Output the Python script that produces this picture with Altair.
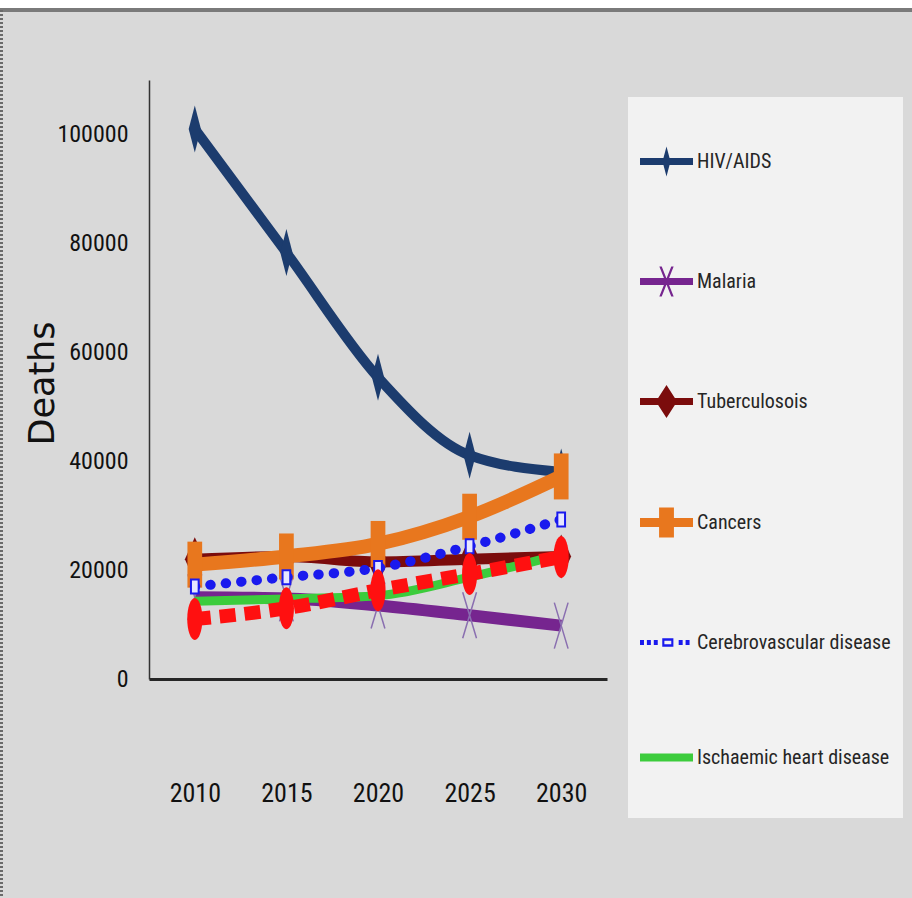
import altair as alt
import pandas as pd

# Projected deaths per year for each cause
years = [2010, 2015, 2020, 2025, 2030]

legend_series = [
    "HIV/AIDS",
    "Malaria",
    "Tuberculosois",
    "Cancers",
    "Cerebrovascular disease",
    "Ischaemic heart disease",
]
extra_series = "Series 7"

hiv = [101000, 78300, 55400, 41100, 38000]
malaria = [15000, 14800, 13500, 11700, 9800]
tuberculosis = [22000, 22500, 21500, 22000, 22500]
cancers = [21000, 22500, 24800, 29800, 37200]
cerebrovascular = [17000, 18700, 20400, 24400, 29300]
ischaemic = [14300, 14700, 15300, 18700, 22900]
series7 = [11000, 13000, 16300, 19300, 22400]

y_ticks = [0, 20000, 40000, 60000, 80000, 100000]

all_series = legend_series + [extra_series]
all_values = [hiv, malaria, tuberculosis, cancers, cerebrovascular, ischaemic, series7]

rows = []
for name, vals in zip(all_series, all_values):
    for yr, v in zip(years, vals):
        rows.append({"series": name, "year": yr, "value": v})
df = pd.DataFrame(rows)

NARROW = "Roboto Condensed"

# Line style per series: colour, width, dash, cap
line_styles = {
    "HIV/AIDS": dict(color="#1c3c6e", strokeWidth=10),
    "Malaria": dict(color="#76258f", strokeWidth=12),
    "Tuberculosois": dict(color="#7b0c0c", strokeWidth=11),
    "Cancers": dict(color="#e8771e", strokeWidth=14),
    "Cerebrovascular disease": dict(color="#1a1aee", strokeWidth=10,
                                    strokeDash=[0.5, 15], strokeCap="round"),
    "Ischaemic heart disease": dict(color="#3ccc3c", strokeWidth=9),
    extra_series: dict(color="#ff1010", strokeWidth=14, strokeDash=[16, 9]),
}

ELLIPSE = ("M0,-1C0.2,-1 0.36,-0.55 0.36,0C0.36,0.55 0.2,1 0,1"
           "C-0.2,1 -0.36,0.55 -0.36,0C-0.36,-0.55 -0.2,-1 0,-1Z")

# Point markers per series (tall shapes)
marker_styles = {
    "HIV/AIDS": dict(shape="M0,-1L0.26,0L0,1L-0.26,0Z", size=2209, filled=True,
                     color="#1c3c6e", opacity=1),
    "Malaria": dict(shape="M-0.3,-1L0.3,1M0.3,-1L-0.3,1", size=2116, filled=False,
                    color="#8a6fb0", strokeWidth=1.5, opacity=1),
    "Tuberculosois": dict(shape="M0,-1L0.45,0L0,1L-0.45,0Z", size=1936, filled=True,
                          color="#7b0c0c", opacity=1),
    "Cancers": dict(shape="M-0.32,-1H0.32V1H-0.32Z", size=2116, filled=True,
                    color="#e8771e", opacity=1),
    "Cerebrovascular disease": dict(shape="M-0.55,-1H0.55V1H-0.55Z", size=196,
                                    filled=True, fill="#e6e6ff", stroke="#1a1aee",
                                    strokeWidth=2, opacity=1),
    extra_series: dict(shape=ELLIPSE, size=1764, filled=True, color="#ff1010", opacity=1),
}

x_enc = alt.X(
    "year:O",
    scale=alt.Scale(type="point", padding=0.5),
    axis=alt.Axis(
        title=None, labelAngle=0, ticks=False, grid=False,
        labelFont=NARROW, labelFontSize=26, labelColor="#111111",
        labelPadding=114, labelBaseline="middle",
        domainColor="#262626", domainWidth=3,
    ),
)
y_enc = alt.Y(
    "value:Q",
    scale=alt.Scale(domain=[0, 110000], nice=False),
    axis=alt.Axis(
        values=y_ticks, format="d", ticks=False, grid=False,
        labelFont=NARROW, labelFontSize=24, labelColor="#111111", labelPadding=21,
        domainColor="#333333", domainWidth=1.5,
        title="Deaths", titleFont="DejaVu Sans", titleFontSize=35,
        titleFontWeight="normal", titleColor="#111111",
        titleX=-107, titleY=303, titleAngle=270,
        titleAlign="center", titleBaseline="middle",
    ),
)

base = alt.Chart(df)

# Figure frame and legend panel (drawn underneath everything else)
decor = [
    alt.Chart(df).mark_rule(color="white", strokeWidth=8).encode(
        x=alt.value(-149), x2=alt.value(763), y=alt.value(-76)),
    alt.Chart(df).mark_rule(color="#7a7a7a", strokeWidth=4).encode(
        x=alt.value(-149), x2=alt.value(763), y=alt.value(-70)),
    alt.Chart(df).mark_rule(color="#6a6a6a", strokeWidth=3, strokeDash=[2, 2]).encode(
        x=alt.value(-147.5), y=alt.value(-70), y2=alt.value(819)),
    alt.Chart(df).mark_rect(color="#f2f2f2").encode(
        x=alt.value(479), x2=alt.value(754), y=alt.value(17), y2=alt.value(738)),
]

layers = []
for name in all_series:
    layers.append(
        base.transform_filter(alt.datum.series == name)
        .mark_line(interpolate="monotone", **line_styles[name])
        .encode(x=x_enc, y=y_enc)
    )
    if name in marker_styles:
        layers.append(
            base.transform_filter(alt.datum.series == name)
            .mark_point(**marker_styles[name])
            .encode(x=x_enc, y=y_enc)
        )

# Legend glyphs: a short line with the series marker in its middle
def dots_path():
    parts = []
    for x0 in [-1.0, -0.74, -0.48, 0.46, 0.72]:
        parts.append(f"M{x0},-0.09H{x0 + 0.15:.2f}V0.09H{x0}Z")
    parts.append("M-0.16,-0.16H0.26V0.16H-0.16Z")
    parts.append("M-0.08,-0.07V0.07H0.18V-0.07Z")
    return " ".join(parts)

legend_paths = [
    "M-1,-0.13H1V0.13H-1Z M0,-0.57L0.15,0L0,0.57L-0.15,0Z",
    "M-1,-0.13H1V0.13H-1Z M-0.27,-0.57L-0.18,-0.57L0.27,0.57L0.18,0.57Z "
    "M0.18,-0.57L0.27,-0.57L-0.18,0.57L-0.27,0.57Z",
    "M-1,-0.13H1V0.13H-1Z M0,-0.62L0.4,0L0,0.62L-0.4,0Z",
    "M-1,-0.17H1V0.17H-1Z M-0.28,-0.57H0.28V0.57H-0.28Z",
    dots_path(),
    "M-1,-0.15H1V0.15H-1Z",
]
legend_colors = ["#1c3c6e", "#76258f", "#7b0c0c", "#e8771e", "#1a1aee", "#3ccc3c"]

legend_layer = (
    base.transform_filter("datum.value < 0")
    .mark_point(filled=True)
    .encode(
        x=x_enc,
        y=y_enc,
        fill=alt.Fill("series:N", scale=alt.Scale(domain=legend_series, range=legend_colors),
                      legend=alt.Legend(title=None)),
        shape=alt.Shape("series:N", scale=alt.Scale(domain=legend_series, range=legend_paths),
                        legend=alt.Legend(title=None)),
    )
)

chart = (
    alt.layer(*decor, legend_layer, *layers)
    .properties(
        width=458,
        height=599,
        autosize=alt.AutoSizeParams(type="none"),
        padding={"left": 149, "top": 80, "right": 305, "bottom": 219},
    )
    .configure(background="#d9d9d9")
    .configure_view(stroke=None)
    .configure_legend(
        orient="none",
        legendX=479,
        legendY=43,
        padding=12,
        rowPadding=78,
        symbolSize=2809,
        symbolStrokeWidth=0,
        symbolOpacity=1,
        labelOffset=4,
        labelFont=NARROW,
        labelFontSize=20,
        labelColor="#262626",
        labelLimit=400,
        direction="vertical",
    )
)

chart.save("out.html", embed_options={"renderer": "svg", "actions": False})
